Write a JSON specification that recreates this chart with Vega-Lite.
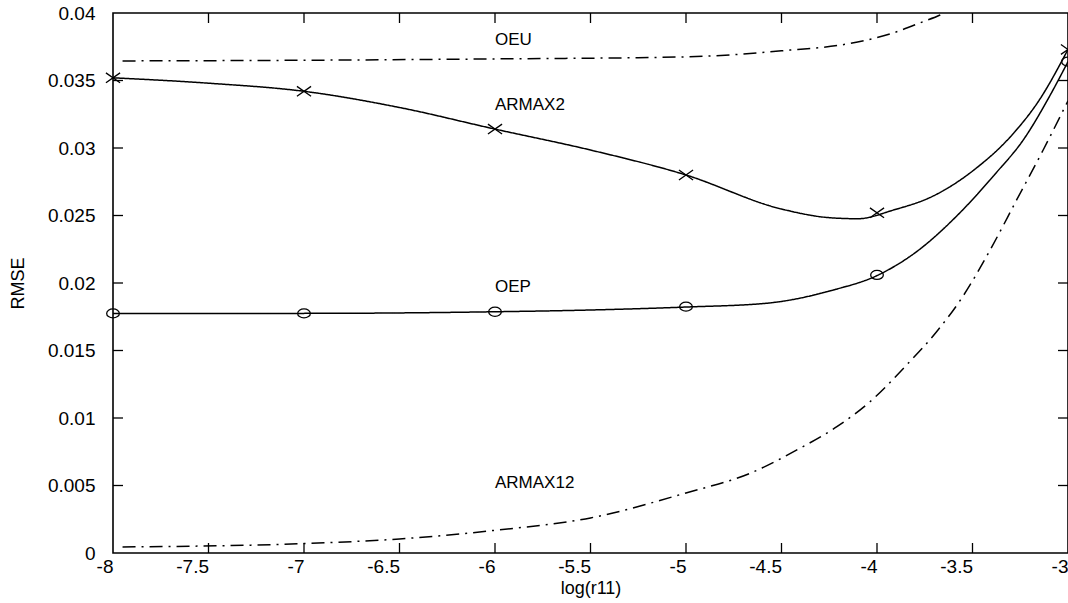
{
  "$schema": "https://vega.github.io/schema/vega-lite/v6.json",
  "width": 955,
  "height": 540,
  "autosize": {"type": "none"},
  "padding": {"left": 113, "top": 13, "right": 0, "bottom": 50},
  "background": "white",
  "config": {
    "view": {"stroke": "black", "strokeWidth": 1.6},
    "font": "Liberation Sans",
    "axis": {"grid": false, "domain": false, "ticks": false, "labelColor": "black", "titleColor": "black", "labelFont": "Liberation Sans", "titleFont": "Liberation Sans", "labelFontSize": 19, "titleFontSize": 18, "titleFontWeight": "normal"}
  },
  "datasets": {
    "curves": [
      {"x": -8, "v": 0.0352, "series": "ARMAX2"},
      {"x": -7.5, "v": 0.0348, "series": "ARMAX2"},
      {"x": -7, "v": 0.0342, "series": "ARMAX2"},
      {"x": -6.5, "v": 0.0330, "series": "ARMAX2"},
      {"x": -6, "v": 0.0314, "series": "ARMAX2"},
      {"x": -5.5, "v": 0.02985, "series": "ARMAX2"},
      {"x": -5, "v": 0.0280, "series": "ARMAX2"},
      {"x": -4.5, "v": 0.02548, "series": "ARMAX2"},
      {"x": -4.25, "v": 0.02484, "series": "ARMAX2"},
      {"x": -4.1, "v": 0.02476, "series": "ARMAX2"},
      {"x": -3.915, "v": 0.0254, "series": "ARMAX2"},
      {"x": -3.705, "v": 0.02645, "series": "ARMAX2"},
      {"x": -3.49, "v": 0.0284, "series": "ARMAX2"},
      {"x": -3.3, "v": 0.03086, "series": "ARMAX2"},
      {"x": -3.15, "v": 0.03356, "series": "ARMAX2"},
      {"x": -3, "v": 0.0373, "series": "ARMAX2"},
      {"x": -8, "v": 0.01775, "series": "OEP"},
      {"x": -7, "v": 0.01775, "series": "OEP"},
      {"x": -6, "v": 0.01787, "series": "OEP"},
      {"x": -5.5, "v": 0.0180, "series": "OEP"},
      {"x": -5, "v": 0.01822, "series": "OEP"},
      {"x": -4.578, "v": 0.0185, "series": "OEP"},
      {"x": -4.229, "v": 0.01948, "series": "OEP"},
      {"x": -4, "v": 0.02055, "series": "OEP"},
      {"x": -3.79, "v": 0.02235, "series": "OEP"},
      {"x": -3.58, "v": 0.0250, "series": "OEP"},
      {"x": -3.38, "v": 0.0281, "series": "OEP"},
      {"x": -3.234, "v": 0.0306, "series": "OEP"},
      {"x": -3.09, "v": 0.0340, "series": "OEP"},
      {"x": -3, "v": 0.0364, "series": "OEP"},
      {"x": -7.95, "v": 0.03645, "series": "OEU"},
      {"x": -7, "v": 0.0365, "series": "OEU"},
      {"x": -6, "v": 0.0366, "series": "OEU"},
      {"x": -5, "v": 0.03675, "series": "OEU"},
      {"x": -4.5, "v": 0.0372, "series": "OEU"},
      {"x": -4.14, "v": 0.03775, "series": "OEU"},
      {"x": -3.92, "v": 0.0385, "series": "OEU"},
      {"x": -3.76, "v": 0.03935, "series": "OEU"},
      {"x": -3.67, "v": 0.03985, "series": "OEU"},
      {"x": -3.6, "v": 0.0404, "series": "OEU"},
      {"x": -3.5, "v": 0.0413, "series": "OEU"},
      {"x": -7.95, "v": 0.00045, "series": "ARMAX12"},
      {"x": -7, "v": 0.0007, "series": "ARMAX12"},
      {"x": -6.5, "v": 0.00104, "series": "ARMAX12"},
      {"x": -6, "v": 0.00168, "series": "ARMAX12"},
      {"x": -5.5, "v": 0.0026, "series": "ARMAX12"},
      {"x": -5, "v": 0.00445, "series": "ARMAX12"},
      {"x": -4.665, "v": 0.0059, "series": "ARMAX12"},
      {"x": -4.403, "v": 0.00776, "series": "ARMAX12"},
      {"x": -4.21, "v": 0.00936, "series": "ARMAX12"},
      {"x": -4.037, "v": 0.0112, "series": "ARMAX12"},
      {"x": -3.845, "v": 0.01393, "series": "ARMAX12"},
      {"x": -3.688, "v": 0.01639, "series": "ARMAX12"},
      {"x": -3.557, "v": 0.01887, "series": "ARMAX12"},
      {"x": -3.408, "v": 0.02244, "series": "ARMAX12"},
      {"x": -3.269, "v": 0.02615, "series": "ARMAX12"},
      {"x": -3.13, "v": 0.02985, "series": "ARMAX12"},
      {"x": -3, "v": 0.0335, "series": "ARMAX12"}
    ],
    "armax2pts": [
      {"x": -8, "v": 0.0352},
      {"x": -7, "v": 0.0342},
      {"x": -6, "v": 0.0314},
      {"x": -5, "v": 0.0280},
      {"x": -4, "v": 0.0252},
      {"x": -3, "v": 0.0373}
    ],
    "oeppts": [
      {"x": -8, "v": 0.01775},
      {"x": -7, "v": 0.01775},
      {"x": -6, "v": 0.01787},
      {"x": -5, "v": 0.01825},
      {"x": -4, "v": 0.0206},
      {"x": -3, "v": 0.0364}
    ],
    "xmarks": [
      {"t": -7.5}, {"t": -7}, {"t": -6.5}, {"t": -6}, {"t": -5.5}, {"t": -5}, {"t": -4.5}, {"t": -4}, {"t": -3.5}
    ],
    "ymarks": [
      {"t": 0.005}, {"t": 0.01}, {"t": 0.015}, {"t": 0.02}, {"t": 0.025}, {"t": 0.03}, {"t": 0.035}
    ],
    "labels": [
      {"x": -6.0, "v": 0.0380, "label": "OEU"},
      {"x": -6.0, "v": 0.0332, "label": "ARMAX2"},
      {"x": -6.0, "v": 0.0197, "label": "OEP"},
      {"x": -6.0, "v": 0.00515, "label": "ARMAX12"}
    ]
  },
  "layer": [
    {
      "data": {"name": "curves"},
      "mark": {"type": "line", "interpolate": "monotone", "clip": true, "color": "black", "strokeWidth": 1.5},
      "encoding": {
        "x": {"field": "x", "type": "quantitative", "scale": {"domain": [-8, -3], "nice": false, "zero": false},
          "axis": {"orient": "bottom", "values": [-8, -7.5, -7, -6.5, -6, -5.5, -5, -4.5, -4, -3.5, -3], "labelPadding": 4, "labelAlign": "right", "labelDx": 1, "labelExpr": "toString(datum.value)", "title": "log(r11)", "titlePadding": 3}},
        "y": {"field": "v", "type": "quantitative", "scale": {"domain": [0, 0.04], "nice": false},
          "axis": {"orient": "left", "values": [0, 0.005, 0.01, 0.015, 0.02, 0.025, 0.03, 0.035, 0.04], "labelPadding": 18, "labelExpr": "toString(datum.value)", "title": "RMSE", "titlePadding": 20}},
        "detail": {"field": "series"},
        "strokeDash": {"field": "series", "type": "nominal", "legend": null,
          "scale": {"domain": ["ARMAX2", "OEP", "OEU", "ARMAX12"], "range": [[1, 0], [1, 0], [13, 6, 2, 6], [13, 6, 2, 6]]}}
      }
    },
    {
      "data": {"name": "xmarks"},
      "mark": {"type": "point", "shape": "M0,0L0,-1", "filled": false, "color": "black", "strokeWidth": 1.3, "size": 400, "opacity": 1},
      "encoding": {
        "x": {"field": "t", "type": "quantitative", "axis": null},
        "y": {"datum": 0, "type": "quantitative", "axis": null}
      }
    },
    {
      "data": {"name": "xmarks"},
      "mark": {"type": "point", "shape": "M0,0L0,1", "filled": false, "color": "black", "strokeWidth": 1.3, "size": 400, "opacity": 1},
      "encoding": {
        "x": {"field": "t", "type": "quantitative", "axis": null},
        "y": {"datum": 0.04, "type": "quantitative", "axis": null}
      }
    },
    {
      "data": {"name": "ymarks"},
      "mark": {"type": "point", "shape": "M0,0L1,0", "filled": false, "color": "black", "strokeWidth": 1.3, "size": 400, "opacity": 1},
      "encoding": {
        "y": {"field": "t", "type": "quantitative", "axis": null},
        "x": {"datum": -8, "type": "quantitative", "axis": null}
      }
    },
    {
      "data": {"name": "ymarks"},
      "mark": {"type": "point", "shape": "M0,0L-1,0", "filled": false, "color": "black", "strokeWidth": 1.3, "size": 400, "opacity": 1},
      "encoding": {
        "y": {"field": "t", "type": "quantitative", "axis": null},
        "x": {"datum": -3, "type": "quantitative", "axis": null}
      }
    },
    {
      "data": {"name": "armax2pts"},
      "mark": {"type": "point", "shape": "M-1,-0.7L1,0.7M-1,0.7L1,-0.7", "filled": false, "color": "black", "strokeWidth": 1.3, "size": 200, "opacity": 1},
      "encoding": {
        "x": {"field": "x", "type": "quantitative", "axis": null},
        "y": {"field": "v", "type": "quantitative", "axis": null}
      }
    },
    {
      "data": {"name": "oeppts"},
      "mark": {"type": "point", "shape": "M-1,0A1,0.72,0,1,1,1,0A1,0.72,0,1,1,-1,0Z", "filled": false, "color": "black", "strokeWidth": 1.3, "size": 160, "opacity": 1},
      "encoding": {
        "x": {"field": "x", "type": "quantitative", "axis": null},
        "y": {"field": "v", "type": "quantitative", "axis": null}
      }
    },
    {
      "data": {"name": "labels"},
      "mark": {"type": "text", "align": "left", "baseline": "middle", "fontSize": 17, "font": "Liberation Sans", "color": "black"},
      "encoding": {
        "x": {"field": "x", "type": "quantitative", "axis": null},
        "y": {"field": "v", "type": "quantitative", "axis": null},
        "text": {"field": "label"}
      }
    }
  ],
  "resolve": {"axis": {"x": "independent", "y": "independent"}}
}
